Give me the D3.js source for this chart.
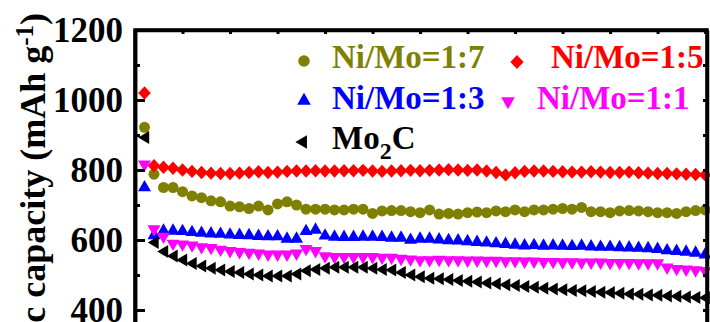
<!DOCTYPE html>
<html>
<head>
<meta charset="utf-8">
<script src="https://cdn.jsdelivr.net/npm/d3@7"></script>
<style>
  html, body { margin: 0; padding: 0; background: #fff; }
  svg { display: block; }
  text { font-family: "Liberation Serif", "Times New Roman", serif; font-weight: bold; }
</style>
</head>
<body>
<svg id="chart" width="710" height="322"></svg>
<script>
// Cycle numbers 1..60
const cycles = d3.range(1, 61);

// Specific capacity (mAh g^-1) per cycle for each sample
const niMo17 = [922, 788, 750, 750, 738, 726, 721, 712, 709, 697, 695, 690, 697, 686, 703, 709, 700, 688, 688, 688,
                686, 686, 688, 688, 676, 683, 684, 684, 681, 678, 686, 674, 676, 674, 678, 680, 678, 683, 681, 686,
                681, 686, 686, 688, 690, 688, 693, 681, 681, 678, 683, 684, 683, 681, 678, 678, 676, 681, 684, 686];
const niMo15 = [1020, 812, 808, 805, 800, 796, 793, 791, 790, 790, 791, 793, 795, 793, 794, 796, 797, 797, 798, 797,
                797, 798, 798, 799, 797, 796, 797, 798, 799, 798, 799, 800, 801, 800, 799, 800, 797, 793, 786, 792,
                796, 797, 797, 796, 795, 794, 794, 795, 794, 793, 793, 794, 792, 791, 790, 790, 789, 788, 787, 786];
const niMo13 = [752, 615, 628, 628, 627, 624, 622, 620, 619, 617, 616, 615, 613, 612, 612, 605, 605, 627, 631, 614,
                611, 610, 610, 611, 611, 610, 608, 608, 602, 605, 605, 603, 601, 600, 598, 596, 594, 592, 590, 588,
                586, 587, 585, 586, 585, 584, 585, 583, 582, 582, 581, 580, 579, 578, 576, 572, 570, 568, 565, 560];
const niMo11 = [814, 629, 608, 588, 586, 583, 578, 576, 571, 567, 564, 562, 560, 557, 557, 557, 560, 573, 567, 552,
                550, 550, 550, 550, 550, 548, 548, 545, 543, 541, 541, 542, 541, 541, 540, 540, 539, 539, 538, 538,
                537, 537, 536, 536, 535, 535, 534, 534, 534, 533, 533, 533, 532, 532, 532, 520, 516, 514, 512, 510];
const mo2c   = [893, 593, 567, 554, 543, 533, 526, 519, 514, 510, 507, 503, 500, 497, 497, 497, 503, 512, 516, 519,
                522, 522, 522, 522, 519, 516, 514, 507, 500, 495, 491, 489, 487, 484, 482, 480, 477, 475, 472, 470,
                467, 465, 462, 460, 458, 456, 455, 453, 451, 450, 448, 446, 445, 443, 442, 440, 439, 437, 436, 435];

const seriesNames = ["Ni/Mo=1:7", "Ni/Mo=1:5", "Ni/Mo=1:3", "Ni/Mo=1:1", "Mo2C"];
const seriesValues = [niMo17, niMo15, niMo13, niMo11, mo2c];
const seriesColors = ["#808000", "#ff0000", "#0000ff", "#ff00ff", "#000000"];
const seriesShapes = ["circle", "diamond", "triUp", "triDown", "triLeft"];

const yTicks = [400, 600, 800, 1000, 1200];
const yMinorTicks = [500, 700, 900, 1100];
const xTicks = d3.range(0, 61, 5);

// Marker outlines (relative to the point), s = scale factor
const shapePath = {
  circle:  s => { const r = 5.5 * s; return `M${r},0A${r},${r},0,1,1,${-r},0A${r},${r},0,1,1,${r},0Z`; },
  diamond: s => `M0,${-6.7*s}L${6.3*s},0L0,${6.7*s}L${-6.3*s},0Z`,
  triUp:   s => `M0,${-6.9*s}L${6.5*s},${4.5*s}L${-6.5*s},${4.5*s}Z`,
  triDown: s => `M0,${6.9*s}L${6.5*s},${-4.5*s}L${-6.5*s},${-4.5*s}Z`,
  triLeft: s => `M${-6.3*s},0L${4.7*s},${-6.5*s}L${4.7*s},${6.5*s}Z`
};

const svg = d3.select("#chart");
const plotLeft = 135, plotRight = 707, plotTop = 30;

const x = d3.scaleLinear().domain([0, 60.2]).range([plotLeft, plotRight]);
const y = d3.scaleLinear().domain([300, 1200]).range([plotTop + 900 * 0.35, plotTop]);

const plotBottom = y(300);

// Data markers
const marks = svg.append("g");
seriesValues.forEach((vals, i) => {
  marks.append("g")
    .attr("fill", seriesColors[i])
    .selectAll("path")
    .data(cycles.map((c, k) => ({ c, v: vals[k] })))
    .join("path")
    .attr("transform", d => `translate(${x(d.c)},${y(d.v)})`)
    .attr("d", shapePath[seriesShapes[i]](1));
});

// Axes
const axisG = svg.append("g");

const yAxis = d3.axisLeft(y).tickValues(yTicks).tickFormat(d3.format("d"))
  .tickSize(-10).tickSizeOuter(0).tickPadding(12);
const gy = axisG.append("g").attr("transform", `translate(${plotLeft},0)`).call(yAxis);
gy.attr("font-family", null).attr("font-size", null);
gy.selectAll("text").attr("font-size", 35).attr("font-weight", "bold").attr("fill", "#000");

const yMinor = d3.axisLeft(y).tickValues(yMinorTicks).tickSize(-5).tickSizeOuter(0).tickFormat("");
axisG.append("g").attr("transform", `translate(${plotLeft},0)`).call(yMinor);

const yRight = d3.axisRight(y).tickValues(yTicks.concat(yMinorTicks)).tickSize(-4).tickSizeOuter(0).tickFormat("");
axisG.append("g").attr("transform", `translate(${plotRight},0)`).call(yRight);

const xTop = d3.axisTop(x).tickValues(xTicks).tickSize(-4).tickSizeOuter(0).tickFormat("");
axisG.append("g").attr("transform", `translate(0,${plotTop})`).call(xTop);

axisG.selectAll(".domain").attr("stroke", "#000").attr("stroke-width", 3.5);
axisG.selectAll(".tick line").attr("stroke", "#000").attr("stroke-width", 3);

// Frame
axisG.append("path")
  .attr("d", `M${plotLeft},${plotBottom}V${plotTop}H${plotRight}V${plotBottom}`)
  .attr("fill", "none").attr("stroke", "#000").attr("stroke-width", 3.5)
  .attr("stroke-linejoin", "miter");

// Y axis title
const title = svg.append("text")
  .attr("transform", "translate(45,13) rotate(-90)")
  .attr("text-anchor", "end")
  .attr("font-size", 36)
  .attr("fill", "#000");
title.append("tspan").text("Specific capacity (mAh g");
title.append("tspan").attr("font-size", 25).attr("dy", -12).text("-1");
title.append("tspan").attr("dy", 12).text(")");

// Legend
const legendItems = [
  { i: 0, mx: 304, my: 61, tx: 332, ty: 68 },
  { i: 1, mx: 517, my: 62, tx: 551, ty: 68 },
  { i: 2, mx: 304, my: 100, tx: 332, ty: 109 },
  { i: 3, mx: 508, my: 102, tx: 537, ty: 109 },
  { i: 4, mx: 302, my: 142, tx: 332, ty: 149 }
];
const legend = svg.append("g");
legendItems.forEach(it => {
  legend.append("path")
    .attr("transform", `translate(${it.mx},${it.my})`)
    .attr("d", shapePath[seriesShapes[it.i]](1.05))
    .attr("fill", seriesColors[it.i]);
  const t = legend.append("text")
    .attr("x", it.tx).attr("y", it.ty)
    .attr("font-size", 33)
    .attr("fill", seriesColors[it.i]);
  if (seriesNames[it.i] === "Mo2C") {
    t.append("tspan").text("Mo");
    t.append("tspan").attr("font-size", 24).attr("dy", 10).text("2");
    t.append("tspan").attr("dy", -10).text("C");
  } else {
    t.text(seriesNames[it.i]);
  }
});
</script>
</body>
</html>
